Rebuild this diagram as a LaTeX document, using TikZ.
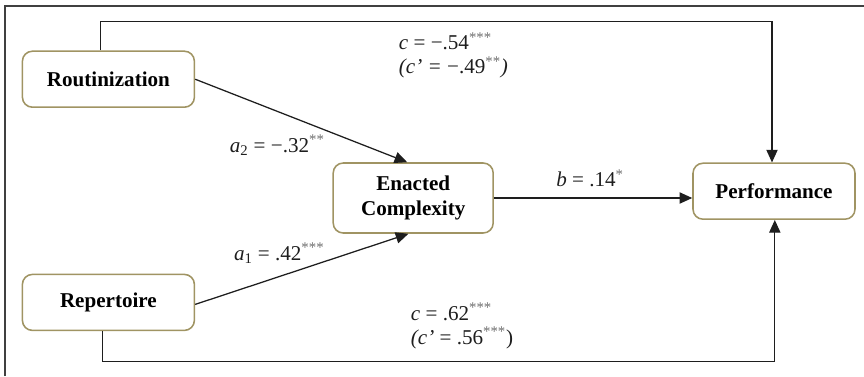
\documentclass[tikz,border=0pt]{standalone}
\usepackage{amsmath}
\usepackage{fontspec}
\setmainfont{Liberation Serif}
\usepackage{tikz}
\usetikzlibrary{arrows.meta, positioning, calc}
\definecolor{BoxOlive}{HTML}{A09463}
\definecolor{LineDark}{HTML}{1E1E1E}
\newcommand{\vi}[1]{\textit{#1}}
\newcommand{\sig}[1]{\textsuperscript{\textcolor{LineDark!65}{#1}}}

\begin{document}
\begin{tikzpicture}[
    var/.style={draw=BoxOlive, line width=1.1pt, rounded corners=0.25cm, fill=white,
                minimum width=4.3cm, minimum height=1.4cm, align=center,
                font=\fontsize{15}{18}\selectfont\bfseries},
    path/.style={draw=LineDark, line width=0.9pt, -{Triangle[length=9pt,width=8pt]}},
    coef/.style={font=\fontsize{15}{17}\selectfont, LineDark}
]
\useasboundingbox (0,0) rectangle (21.6,-9.4);
% Frame (cropped: only top and left edges show)
\draw[LineDark!85, line width=0.8pt] (0.125,-9.4) -- (0.125,-0.15) -- (21.6,-0.15);

% Predictors
\node[var] (rout) at (2.71,-1.98) {Routinization};
\node[var] (rep) at (2.71,-7.56) {Repertoire};
% Mediator
\node[var, minimum width=4.0cm, minimum height=1.75cm] (enact) at (10.33,-4.95) {Enacted\\Complexity};
% Outcome
\node[var, minimum width=4.05cm] (perf) at (19.35,-4.78) {Performance};

% Indirect paths
\draw[path] (rout.east) -- ([xshift=-0.15cm]enact.north);
\draw[path] ([yshift=-0.05cm]rep.east) -- ([xshift=-0.12cm]enact.south);
\draw[path] (enact.east) -- (enact.east -| perf.west);
% Direct paths
\draw[path] ([xshift=-0.2cm]rout.north) -- ++(0,0.72) coordinate (topbend)
    -| ([xshift=-0.05cm]perf.north);
\draw[path] ([xshift=-0.15cm]rep.south) -- ++(0,-0.75) coordinate (botbend)
    -| ([xshift=0.02cm]perf.south);

% Coefficients
\node[coef] (a2) at (6.93,-3.63) {\vi{a}\textsubscript{2} = −.32\sig{**}};
\node[coef] (a1) at (6.98,-6.33) {\vi{a}\textsubscript{1} = .42\sig{***}};
\node[coef] (b) at (14.75,-4.45) {\vi{b} = .14\sig{*}};
\node[coef, anchor=west, align=left] (ctop) at (9.85,-1.38)
    {\vi{c} = −.54\sig{***}\\\vi{(c' =} −.49\sig{**}\vi{)}};
\node[coef, anchor=west, align=left] (cbot) at (10.15,-8.15)
    {\vi{c} = .62\sig{***}\\\vi{(c'} = .56\sig{***})};
\end{tikzpicture}
\end{document}
